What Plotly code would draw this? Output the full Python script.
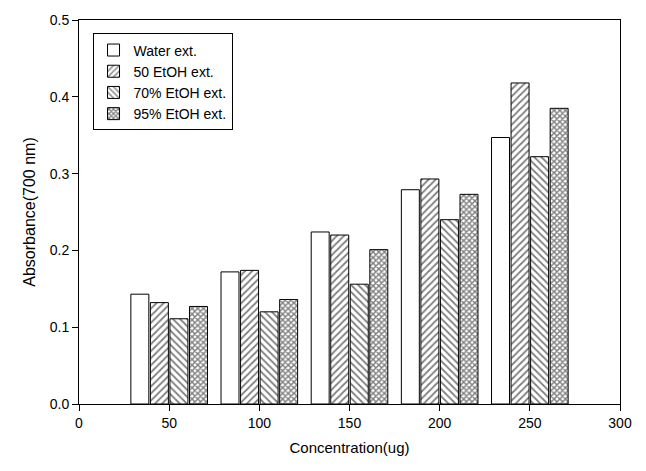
import plotly.graph_objects as go

concentration = [50, 100, 150, 200, 250]
series_names = ["Water ext.", "50 EtOH ext.", "70% EtOH ext.", "95% EtOH ext."]
water = [0.143, 0.172, 0.224, 0.279, 0.347]
etoh50 = [0.132, 0.174, 0.220, 0.293, 0.418]
etoh70 = [0.111, 0.120, 0.156, 0.240, 0.322]
etoh95 = [0.127, 0.136, 0.201, 0.273, 0.385]
x_ticks = [0, 50, 100, 150, 200, 250, 300]
y_ticks = [0.0, 0.1, 0.2, 0.3, 0.4, 0.5]

values = [water, etoh50, etoh70, etoh95]
patterns = [
    dict(shape=""),
    dict(shape="/", size=5, solidity=0.35, fgcolor="black", bgcolor="white"),
    dict(shape="\\", size=5, solidity=0.35, fgcolor="black", bgcolor="white"),
    dict(shape="x", size=4, solidity=0.6, fgcolor="black", bgcolor="white"),
]

font = "Liberation Sans, Arial, Helvetica, sans-serif"
fig = go.Figure()
for name, vals, pat in zip(series_names, values, patterns):
    fig.add_trace(go.Bar(
        x=concentration, y=vals, name=name,
        marker=dict(color="white", line=dict(color="black", width=1), pattern=pat),
    ))

fig.update_layout(
    width=646, height=471,
    margin=dict(l=79, r=26, t=14, b=67),
    paper_bgcolor="white", plot_bgcolor="white",
    barmode="group", bargap=0.133, bargroupgap=0.08,
    font=dict(family=font, size=14, color="black"),
    showlegend=True,
    legend=dict(
        x=0.025, y=0.965, xanchor="left", yanchor="top",
        bordercolor="black", borderwidth=1, bgcolor="white",
        font=dict(size=14, family=font), tracegroupgap=0,
        itemwidth=30,
    ),
    xaxis=dict(
        range=[0, 300], tickvals=x_ticks, ticktext=[str(v) for v in x_ticks],
        showgrid=False, zeroline=False, showline=True, linecolor="black", linewidth=1,
        mirror=True, ticks="outside", ticklen=6, tickcolor="black",
        title=dict(text="Concentration(ug)", font=dict(size=15, family=font), standoff=12),
        tickfont=dict(size=14, family=font),
    ),
    yaxis=dict(
        range=[0, 0.5], tickvals=y_ticks, ticktext=[f"{v:.1f}" for v in y_ticks],
        showgrid=False, zeroline=False, showline=True, linecolor="black", linewidth=1,
        mirror=True, ticks="outside", ticklen=6, tickcolor="black",
        title=dict(text="Absorbance(700 nm)", font=dict(size=16, family=font), standoff=10),
        tickfont=dict(size=14, family=font),
    ),
)

fig.write_html("out.html")
